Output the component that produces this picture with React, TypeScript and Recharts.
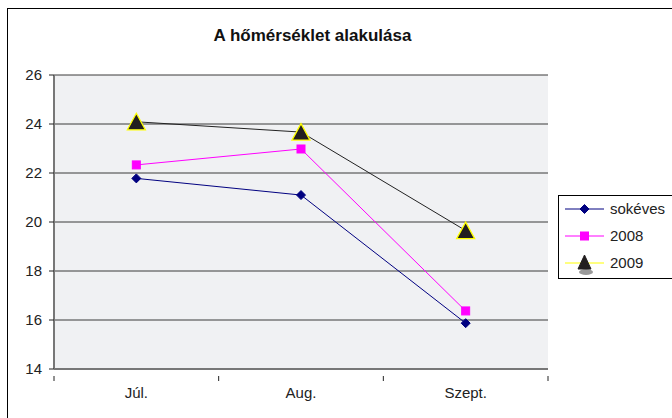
import React from 'react';
import { LineChart, Line, XAxis, YAxis, CartesianGrid } from 'recharts';

const categories = ['Júl.', 'Aug.', 'Szept.'];
const sokeves = [21.78, 21.1, 15.87];
const y2008 = [22.33, 22.98, 16.37];
const y2009 = [24.09, 23.67, 19.65];
const yTicks = [14, 16, 18, 20, 22, 24, 26];
const seriesNames = ['sokéves', '2008', '2009'];

const data = categories.map((c, i) => ({
  cat: c,
  s0: sokeves[i],
  s1: y2008[i],
  s2: y2009[i],
}));

const FONT = '"Liberation Sans", Arial, sans-serif';

const Diamond = (props: any) => {
  const { cx, cy } = props;
  if (cx == null || cy == null) return null;
  const r = 4.5;
  return (
    <polygon
      points={`${cx},${cy - r} ${cx + r},${cy} ${cx},${cy + r} ${cx - r},${cy}`}
      fill="#000080"
      stroke="#000080"
      strokeWidth={1}
    />
  );
};

const Square = (props: any) => {
  const { cx, cy } = props;
  if (cx == null || cy == null) return null;
  const r = 4;
  return <rect x={cx - r} y={cy - r} width={2 * r} height={2 * r} fill="#ff00ff" stroke="#ff00ff" />;
};

const Triangle = (props: any) => {
  const { cx, cy } = props;
  if (cx == null || cy == null) return null;
  return (
    <polygon
      points={`${cx},${cy - 8.5} ${cx + 9},${cy + 8} ${cx - 9},${cy + 8}`}
      fill="#231f20"
      stroke="#ffff00"
      strokeWidth={1.3}
    />
  );
};

const XTick = (props: any) => {
  const { x, y, payload, index } = props;
  const off = payload && typeof payload.offset === 'number' && payload.offset > 0 ? payload.offset : 82.5;
  return (
    <g>
      {index === 0 && <line x1={x - off} x2={x - off} y1={y - 1} y2={y + 4} stroke="#222" />}
      <line x1={x + off} x2={x + off} y1={y - 1} y2={y + 4} stroke="#222" />
      <text x={x} y={y + 21} textAnchor="middle" fontFamily={FONT} fontSize={15} fill="#222">
        {payload.value}
      </text>
    </g>
  );
};

const LegendRow = ({ top, label, kind }: { top: number; label: string; kind: number }) => {
  const lineColor = kind === 0 ? '#000080' : kind === 1 ? '#ff00ff' : '#ffff00';
  return (
    <div style={{ position: 'absolute', left: 0, top, width: 112, height: 26 }}>
      <svg width={50} height={26} style={{ position: 'absolute', left: 0, top: 0 }}>
        <line x1={6} x2={45} y1={13} y2={13} stroke={lineColor} strokeWidth={1} />
        {kind === 0 && <Diamond cx={25.5} cy={13} />}
        {kind === 1 && <Square cx={25.5} cy={13} />}
        {kind === 2 && (
          <g>
            <ellipse cx={27} cy={22} rx={7} ry={3} fill="#999" />
            <polygon points="25.5,5 32,19 19,19" fill="#231f20" stroke="#231f20" />
          </g>
        )}
      </svg>
      <span
        style={{
          position: 'absolute',
          left: 51,
          top: 4,
          fontFamily: FONT,
          fontSize: 15,
          color: '#222',
          lineHeight: '18px',
          whiteSpace: 'nowrap',
        }}
      >
        {label}
      </span>
    </div>
  );
};

export default function App() {
  return (
    <div
      style={{
        position: 'fixed',
        left: 0,
        top: 0,
        width: 672,
        height: 418,
        overflow: 'hidden',
        background: '#fff',
      }}
    >
      <div
        style={{
          position: 'absolute',
          left: 7,
          top: 8,
          width: 720,
          height: 440,
          border: '1px solid #000',
          boxSizing: 'border-box',
        }}
      />
      <div
        style={{
          position: 'absolute',
          left: 0,
          top: 26,
          width: 625,
          textAlign: 'center',
          fontFamily: FONT,
          fontWeight: 'bold',
          fontSize: 17,
          color: '#111',
          lineHeight: '20px',
        }}
      >
        A hőmérséklet alakulása
      </div>
      <div style={{ position: 'absolute', left: 0, top: 0 }}>
        <LineChart
          width={672}
          height={418}
          data={data}
          margin={{ top: 75, right: 124, bottom: 0, left: 0 }}
        >
          <CartesianGrid
            horizontal={true}
            vertical={false}
            stroke="#3a3a3a"
            fill="#f0f1f3"
            fillOpacity={1}
          />
          <XAxis
            dataKey="cat"
            scale="band"
            height={49}
            axisLine={{ stroke: '#777', strokeWidth: 2 }}
            tickLine={false}
            tick={<XTick />}
            interval={0}
          />
          <YAxis
            width={54}
            domain={[14, 26]}
            ticks={yTicks}
            interval={0}
            allowDataOverflow
            axisLine={{ stroke: '#777', strokeWidth: 2 }}
            tickLine={{ stroke: '#222' }}
            tickSize={5}
            tickMargin={7}
            tick={{ fontFamily: FONT, fontSize: 15, fill: '#222' }}
          />
          <YAxis
            yAxisId="r"
            orientation="right"
            width={0}
            domain={[14, 26]}
            tick={false}
            tickLine={false}
            axisLine={{ stroke: '#999', strokeWidth: 1.5 }}
          />
          <Line
            dataKey="s0"
            name={seriesNames[0]}
            stroke="#000080"
            strokeWidth={1}
            dot={<Diamond />}
            isAnimationActive={false}
          />
          <Line
            dataKey="s1"
            name={seriesNames[1]}
            stroke="#ff00ff"
            strokeWidth={1}
            dot={<Square />}
            isAnimationActive={false}
          />
          <Line
            dataKey="s2"
            name={seriesNames[2]}
            stroke="#222"
            strokeWidth={1}
            dot={<Triangle />}
            isAnimationActive={false}
          />
        </LineChart>
      </div>
      <div
        style={{
          position: 'absolute',
          left: 558,
          top: 195,
          width: 120,
          height: 84,
          border: '1px solid #000',
          boxSizing: 'border-box',
          background: '#fff',
        }}
      >
        <LegendRow top={0} label={seriesNames[0]} kind={0} />
        <LegendRow top={27} label={seriesNames[1]} kind={1} />
        <LegendRow top={54} label={seriesNames[2]} kind={2} />
      </div>
    </div>
  );
}
